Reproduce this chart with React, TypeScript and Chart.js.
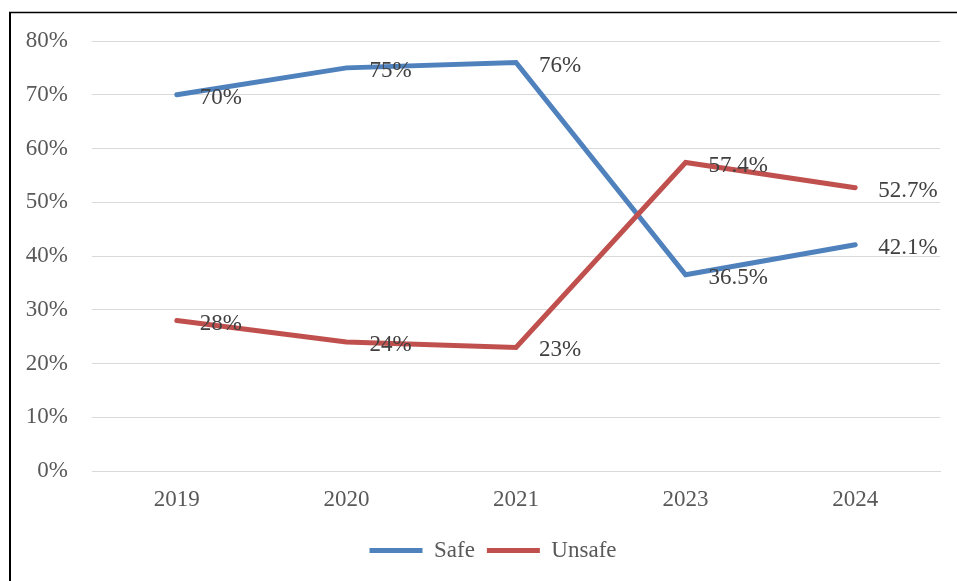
import React, { useEffect, useRef } from "react";
import { Chart, registerables } from "chart.js";

Chart.register(...registerables);

const years = ["2019", "2020", "2021", "2023", "2024"];
const safeValues = [70, 75, 76, 36.5, 42.1];
const unsafeValues = [28, 24, 23, 57.4, 52.7];
const safeLabels = ["70%", "75%", "76%", "36.5%", "42.1%"];
const unsafeLabels = ["28%", "24%", "23%", "57.4%", "52.7%"];

const SERIF = "'Liberation Serif', 'Times New Roman', serif";
const BLUE = "#4f81bd";
const RED = "#c0504d";

// Value labels placed to the right of each point
const valueLabels = {
  id: "valueLabels",
  afterDatasetsDraw(chart: any) {
    const ctx = chart.ctx;
    const texts = [safeLabels, unsafeLabels];
    ctx.save();
    ctx.font = `23px ${SERIF}`;
    ctx.fillStyle = "#404040";
    ctx.textAlign = "left";
    ctx.textBaseline = "middle";
    chart.data.datasets.forEach((_: any, di: number) => {
      const meta = chart.getDatasetMeta(di);
      meta.data.forEach((pt: any, i: number) => {
        ctx.fillText(texts[di][i], pt.x + 23, pt.y + 3);
      });
    });
    ctx.restore();
  },
};

// Nudge the legend so it sits centred under the plot
const legendShift = {
  id: "legendShift",
  afterLayout(chart: any) {
    const lg = chart.legend;
    if (lg) {
      lg.left += 23;
      lg.right += 23;
    }
  },
};

// Thin black frame along the top and left edges
const frame = {
  id: "frame",
  afterDraw(chart: any) {
    const ctx = chart.ctx;
    ctx.save();
    ctx.strokeStyle = "#000";
    ctx.lineWidth = 2;
    ctx.beginPath();
    ctx.moveTo(10, chart.height);
    ctx.lineTo(10, 12.5);
    ctx.stroke();
    ctx.lineWidth = 1.5;
    ctx.beginPath();
    ctx.moveTo(9, 12.5);
    ctx.lineTo(chart.width, 12.5);
    ctx.stroke();
    ctx.restore();
  },
};

export default function App() {
  const ref = useRef<HTMLCanvasElement | null>(null);

  useEffect(() => {
    if (!ref.current) return;
    const chart = new Chart(ref.current, {
      type: "line",
      data: {
        labels: years,
        datasets: [
          {
            label: "Safe",
            data: safeValues,
            borderColor: BLUE,
            backgroundColor: BLUE,
            borderWidth: 5,
            pointRadius: 0,
            pointStyle: "line",
            tension: 0,
            borderCapStyle: "round",
            borderJoinStyle: "miter",
            order: 2,
          },
          {
            label: "Unsafe",
            data: unsafeValues,
            borderColor: RED,
            backgroundColor: RED,
            borderWidth: 5,
            pointRadius: 0,
            pointStyle: "line",
            tension: 0,
            borderCapStyle: "round",
            borderJoinStyle: "miter",
            order: 1,
          },
        ],
      },
      options: {
        responsive: false,
        animation: false,
        layout: { padding: { top: 41, left: 0, right: 17, bottom: 9 } },
        plugins: {
          tooltip: { enabled: false },
          legend: {
            position: "bottom",
            labels: {
              usePointStyle: true,
              pointStyle: "line",
              pointStyleWidth: 53,
              boxHeight: 23,
              padding: 12,
              color: "#595959",
              font: { family: SERIF, size: 23 },
              sort: (a: any, b: any) => a.datasetIndex - b.datasetIndex,
            },
          },
        },
        scales: {
          x: {
            offset: true,
            grid: { display: false, drawTicks: false },
            border: { display: true, color: "#d9d9d9", width: 1 },
            ticks: { color: "#595959", font: { family: SERIF, size: 23 }, padding: 15 },
            afterFit: (s: any) => {
              s.height = 56;
            },
          },
          y: {
            min: 0,
            max: 80,
            grid: { color: "#d9d9d9", lineWidth: 1, drawTicks: false },
            border: { display: false },
            ticks: {
              stepSize: 10,
              color: "#595959",
              font: { family: SERIF, size: 23 },
              padding: 24,
              callback: (v: any) => `${v}%`,
            },
            afterFit: (s: any) => {
              s.width = 92;
            },
          },
        },
      },
      plugins: [valueLabels, legendShift, frame],
    });
    return () => chart.destroy();
  }, []);

  return (
    <div style={{ position: "absolute", left: 0, top: 0, width: 957, height: 581, background: "#fff" }}>
      <canvas ref={ref} width={957} height={581} style={{ display: "block" }} />
    </div>
  );
}
